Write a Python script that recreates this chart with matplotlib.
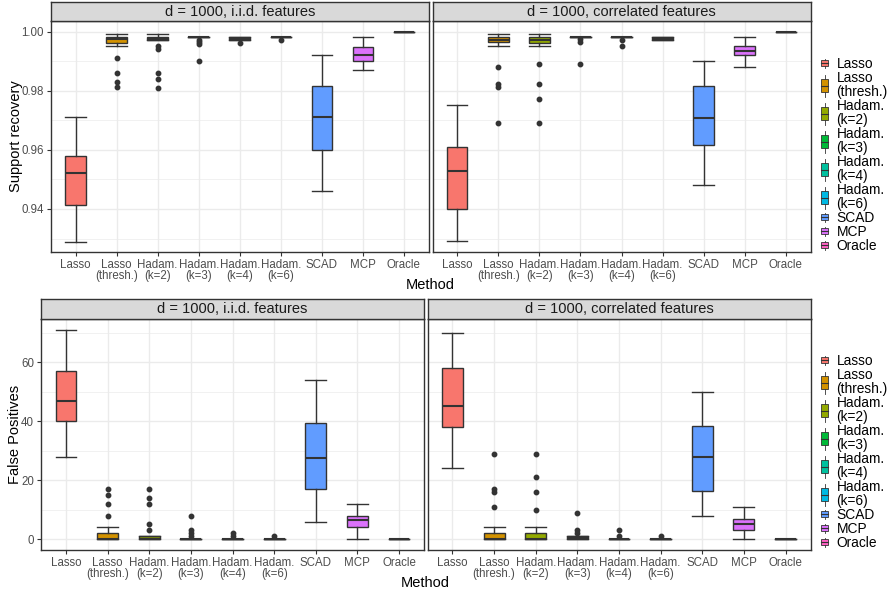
import numpy as np
import matplotlib.pyplot as plt
from matplotlib.patches import Patch, Rectangle
from matplotlib.lines import Line2D
from matplotlib.legend_handler import HandlerBase
from matplotlib.ticker import MultipleLocator, FormatStrFormatter

plt.rcParams['font.family'] = ['Liberation Sans', 'DejaVu Sans']

methods = ["Lasso", "Lasso\n(thresh.)", "Hadam.\n(k=2)", "Hadam.\n(k=3)", "Hadam.\n(k=4)",
           "Hadam.\n(k=6)", "SCAD", "MCP", "Oracle"]
colors = ["#F8766D", "#D39200", "#93AA00", "#00BA38", "#00C19F", "#00B9E3",
          "#619CFF", "#DB72FB", "#FF61C3"]
panel_titles = ["d = 1000, i.i.d. features", "d = 1000, correlated features"]

# five number summaries: whisker low, q1, median, q3, whisker high
support_iid = [[0.929, 0.9413, 0.952, 0.958, 0.971],
               [0.995, 0.9962, 0.9973, 0.9982, 0.9991],
               [0.997, 0.997, 0.9975, 0.9982, 0.9991],
               [0.9981, 0.9981, 0.9981, 0.9981, 0.9981],
               [0.9971, 0.9971, 0.9976, 0.9982, 0.9982],
               [0.9981, 0.9981, 0.9981, 0.9981, 0.9981],
               [0.946, 0.9601, 0.971, 0.9817, 0.992],
               [0.987, 0.990, 0.992, 0.9948, 0.9981],
               [1.0, 1.0, 1.0, 1.0, 1.0]]
support_iid_out = [[], [0.9911, 0.986, 0.983, 0.9811], [0.9952, 0.9942, 0.986, 0.9841, 0.981],
                   [0.9972, 0.9965, 0.9958, 0.9901], [0.9961], [0.9971], [], [], []]

support_cor = [[0.9292, 0.9401, 0.9528, 0.9608, 0.9751],
               [0.995, 0.9963, 0.9972, 0.9981, 0.9991],
               [0.995, 0.9962, 0.9972, 0.9981, 0.9991],
               [0.9981, 0.9981, 0.9981, 0.9981, 0.9981],
               [0.9981, 0.9981, 0.9981, 0.9981, 0.9981],
               [0.9971, 0.9971, 0.9976, 0.9981, 0.9981],
               [0.9482, 0.9615, 0.9708, 0.9815, 0.9899],
               [0.9879, 0.9921, 0.9935, 0.995, 0.9981],
               [1.0, 1.0, 1.0, 1.0, 1.0]]
support_cor_out = [[], [0.9881, 0.9823, 0.9814, 0.9689], [0.9891, 0.9821, 0.9773, 0.969],
                   [0.9973, 0.9966, 0.9891], [0.9971, 0.995], [], [], [], []]

fp_iid = [[28, 40, 47, 57, 71],
          [0, 0, 0, 2, 4],
          [0, 0, 0, 1, 1],
          [0, 0, 0, 0, 0],
          [0, 0, 0, 0, 0],
          [0, 0, 0, 0, 0],
          [6, 17, 27.5, 39.5, 54],
          [0, 4, 6.5, 8, 12],
          [0, 0, 0, 0, 0]]
fp_iid_out = [[], [8, 12, 15, 17], [3, 5, 12, 14, 17], [1, 2, 3, 8], [1, 2], [1], [], [], []]

fp_cor = [[24, 38, 45, 58, 70],
          [0, 0, 0, 2, 4],
          [0, 0, 0, 2, 4],
          [0, 0, 0.5, 1, 1],
          [0, 0, 0, 0, 0],
          [0, 0, 0, 0, 0],
          [8, 16.5, 28, 38.5, 50],
          [0, 3, 5, 7, 11],
          [0, 0, 0, 0, 0]]
fp_cor_out = [[], [11, 16, 17, 29], [10, 16, 21, 29], [2, 3, 9], [1, 3], [1], [], [], []]

W, H = 890, 593
fig = plt.figure(figsize=(W / 100, H / 100), dpi=100)


def px_axes(x0, y0, x1, y1):
    return fig.add_axes([x0 / W, 1 - y1 / H, (x1 - x0) / W, (y1 - y0) / H])


def make_stats(summary, outliers):
    out = []
    for s, o in zip(summary, outliers):
        out.append(dict(whislo=s[0], q1=s[1], med=s[2], q3=s[3], whishi=s[4], fliers=o))
    return out


def draw_panel(ax, summary, outliers, ylim, major, minor, fmt, show_y):
    ax.bxp(make_stats(summary, outliers), positions=np.arange(1, 10), widths=0.5,
           capwidths=0.5, patch_artist=True, showfliers=True,
           boxprops=dict(edgecolor="#333333", linewidth=1.0),
           medianprops=dict(color="#333333", linewidth=1.5),
           whiskerprops=dict(color="#333333", linewidth=1.0),
           capprops=dict(color="#333333", linewidth=1.0),
           flierprops=dict(marker="o", markersize=3.2, markerfacecolor="#333333",
                           markeredgecolor="#333333"))
    for patch, c in zip(ax.patches, colors):
        patch.set_facecolor(c)
    ax.set_xlim(0.4, 9.6)
    ax.set_ylim(*ylim)
    ax.set_xticks(np.arange(1, 10))
    ax.set_xticklabels(methods)
    for t in ax.get_xticklabels():
        t.set_linespacing(0.95)
    ax.yaxis.set_major_locator(MultipleLocator(major))
    ax.yaxis.set_minor_locator(MultipleLocator(minor))
    ax.yaxis.set_major_formatter(FormatStrFormatter(fmt))
    ax.grid(which="major", color="#EBEBEB", linewidth=1.0)
    ax.grid(which="minor", axis="y", color="#EBEBEB", linewidth=0.5)
    ax.set_axisbelow(True)
    ax.tick_params(axis="both", which="major", labelsize=8.3, labelcolor="#4D4D4D",
                   color="#333333", length=3, width=0.8, pad=2)
    ax.tick_params(axis="y", which="minor", left=False)
    if not show_y:
        ax.tick_params(axis="y", left=False, labelleft=False)
    for sp in ax.spines.values():
        sp.set_color("#333333")
        sp.set_linewidth(1.0)


def strip(x0, y0, x1, y1, title):
    s = px_axes(x0, y0, x1, y1)
    s.set_facecolor("#D9D9D9")
    s.set_xticks([])
    s.set_yticks([])
    for sp in s.spines.values():
        sp.set_color("#333333")
        sp.set_linewidth(1.0)
    s.text(0.5, 0.5, title, ha="center", va="center", fontsize=10.5, color="#1A1A1A",
           transform=s.transAxes)


def expand(summary_a, summary_b, out_a, out_b):
    vals = [v for s in summary_a + summary_b for v in s]
    vals += [v for o in out_a + out_b for v in o]
    lo, hi = min(vals), max(vals)
    pad = (hi - lo) * 0.05
    return lo - pad, hi + pad


class BoxKey(HandlerBase):
    def create_artists(self, legend, orig, xd, yd, w, h, fs, trans):
        n = getattr(orig, "nlines", 1)
        cx = -xd + w / 2
        cy = -yd + h / 2
        bw = 5.2
        bh = 4.0 if n == 1 else 9.5
        wh = 6.5 if n == 1 else 16.0
        rect = Rectangle((cx - bw / 2, cy - bh / 2), bw, bh, facecolor=orig.get_facecolor(),
                         edgecolor="#333333", linewidth=0.6, transform=trans)
        med = Line2D([cx - bw / 2, cx + bw / 2], [cy, cy], color="#333333", lw=0.8,
                     transform=trans)
        up = Line2D([cx, cx], [cy + bh / 2, cy + wh / 2], color="#333333", lw=0.6,
                    transform=trans)
        dn = Line2D([cx, cx], [cy - bh / 2, cy - wh / 2], color="#333333", lw=0.6,
                    transform=trans)
        return [rect, med, up, dn]


def add_legend(ycenter):
    handles = []
    for m, c in zip(methods, colors):
        p = Patch(facecolor=c)
        p.nlines = m.count("\n") + 1
        handles.append(p)
    leg = fig.legend(handles, methods, loc="center left",
                     bbox_to_anchor=(818 / W, 1 - ycenter / H), frameon=False,
                     borderpad=0, borderaxespad=0, labelspacing=0.0, handlelength=0.95,
                     handletextpad=0.4, fontsize=9.9, handler_map={Patch: BoxKey()})
    for t in leg.get_texts():
        t.set_linespacing(1.0)
        t.set_color("#000000")


# top row: support recovery
ylim_top = expand(support_iid, support_cor, support_iid_out, support_cor_out)
ax1 = px_axes(51, 21, 428.5, 252)
draw_panel(ax1, support_iid, support_iid_out, ylim_top, 0.02, 0.01, "%.2f", True)
ax2 = px_axes(432.5, 21, 810.5, 252)
draw_panel(ax2, support_cor, support_cor_out, ylim_top, 0.02, 0.01, "%.2f", False)
strip(51, 2, 428.5, 21, panel_titles[0])
strip(432.5, 2, 810.5, 21, panel_titles[1])
fig.text(430 / W, 1 - 285 / H, "Method", ha="center", va="center", fontsize=10.5)
fig.text(16 / W, 1 - 136.5 / H, "Support recovery", ha="center", va="center",
         rotation=90, fontsize=10.5)
add_legend(155)

# bottom row: false positives
ylim_bot = expand(fp_iid, fp_cor, fp_iid_out, fp_cor_out)
ax3 = px_axes(41, 319.3, 424, 549.7)
draw_panel(ax3, fp_iid, fp_iid_out, ylim_bot, 20, 10, "%d", True)
ax4 = px_axes(427.5, 319.3, 810.5, 549.7)
draw_panel(ax4, fp_cor, fp_cor_out, ylim_bot, 20, 10, "%d", False)
strip(41, 299.3, 424, 319.3, panel_titles[0])
strip(427.5, 299.3, 810.5, 319.3, panel_titles[1])
fig.text(425.5 / W, 1 - 583 / H, "Method", ha="center", va="center", fontsize=10.5)
fig.text(15.5 / W, 1 - 434.5 / H, "False Positives", ha="center", va="center",
         rotation=90, fontsize=10.5)
add_legend(452)

fig.savefig("out.png", dpi=100)
